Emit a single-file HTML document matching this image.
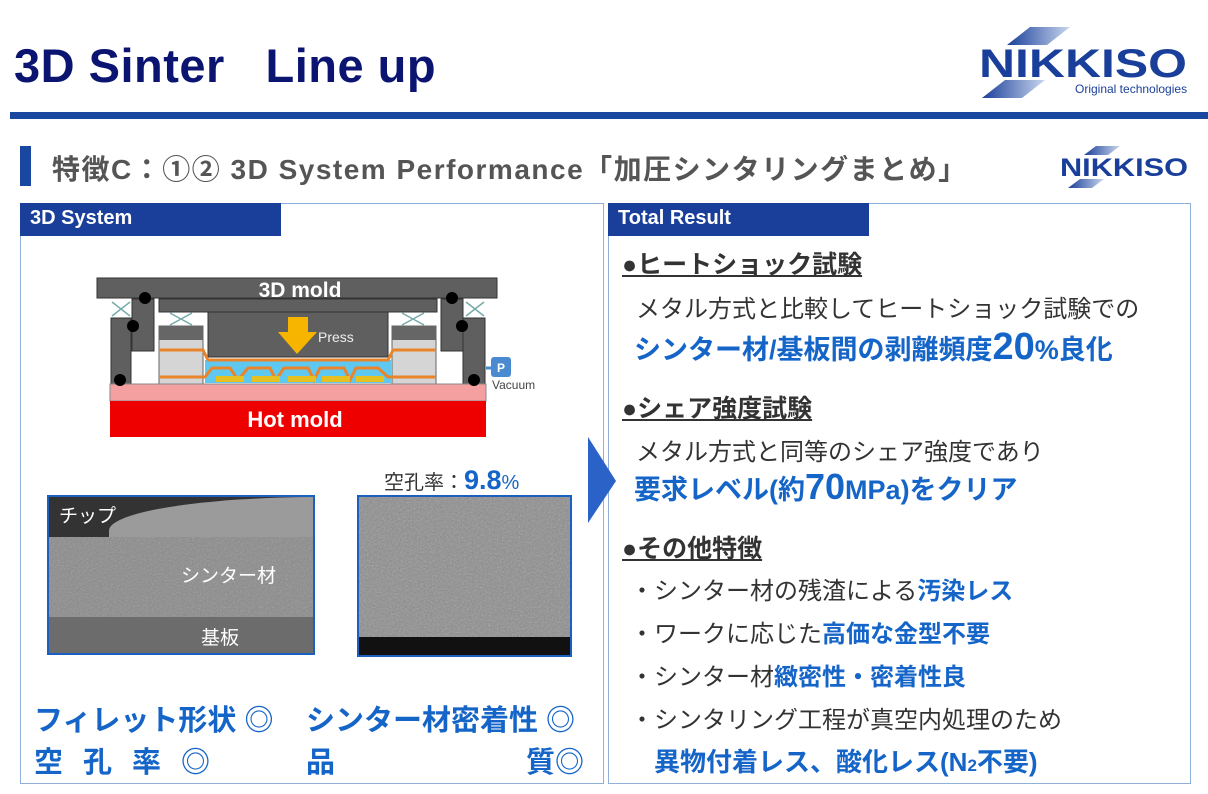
<!DOCTYPE html>
<html><head><meta charset="utf-8"><style>
body{margin:0;width:1208px;height:794px;background:#fff;position:relative;overflow:hidden;font-family:"Liberation Sans","Noto Sans CJK JP",sans-serif}
.a{position:absolute;white-space:nowrap}
.b{font-weight:bold}
.blue{color:#1565c8}
</style></head><body>
<div class="a b" style="left:14px;top:38px;font-size:47px;color:#0b1470;letter-spacing:0.5px">3D Sinter&nbsp;&nbsp;&nbsp;Line up</div>
<!-- logo -->
<svg class="a" style="left:975px;top:25px" width="220" height="80">
<defs><linearGradient id="g" x1="0" x2="1"><stop offset="0" stop-color="#1a3f9a"/><stop offset="1" stop-color="#c9d6ee"/></linearGradient>
<filter id="n"><feTurbulence type="fractalNoise" baseFrequency="0.6" numOctaves="2"/><feColorMatrix type="saturate" values="0"/></filter></defs>
<polygon points="55,2 95,2 72,20 32,20" fill="url(#g)"/>
<polygon points="30,55 70,55 47,73 7,73" fill="url(#g)"/>
<text x="4" y="52" font-family="Liberation Sans" font-weight="bold" font-size="40" fill="#1a3f9a" textLength="208" lengthAdjust="spacingAndGlyphs">NIKKISO</text>
<text x="100" y="68" font-family="Liberation Sans" font-size="12" fill="#1a3f9a">Original technologies</text>
</svg>
<div class="a" style="left:10px;top:112px;width:1198px;height:7px;background:#1a47a0"></div>
<div class="a" style="left:20px;top:146px;width:11px;height:40px;background:#1a47a0"></div>
<div class="a b" style="left:52px;top:148px;font-size:28px;color:#555;letter-spacing:1.5px">特徴C：①② 3D System Performance「加圧シンタリングまとめ」</div>
<svg class="a" style="left:1058px;top:145px" width="135" height="45">
<polygon points="38,1 62,1 50,10 26,10" fill="url(#g)"/>
<polygon points="22,34 46,34 34,43 10,43" fill="url(#g)"/>
<text x="2" y="31" font-family="Liberation Sans" font-weight="bold" font-size="25" fill="#1a3f9a" textLength="128" lengthAdjust="spacingAndGlyphs">NIKKISO</text>
</svg>
<!-- panels -->
<div class="a" style="left:20px;top:203px;width:582px;height:579px;border:1px solid #8fb0d8"></div>
<div class="a" style="left:608px;top:203px;width:581px;height:579px;border:1px solid #8fb0d8"></div>
<div class="a b" style="left:20px;top:203px;width:261px;height:33px;background:#1a3f9a;color:#fff;font-size:20px;line-height:31px;padding-left:10px;box-sizing:border-box">3D System</div>
<div class="a b" style="left:608px;top:203px;width:261px;height:33px;background:#1a3f9a;color:#fff;font-size:20px;line-height:31px;padding-left:10px;box-sizing:border-box">Total Result</div>
<svg class="a" style="left:588px;top:437px" width="30" height="88"><polygon points="0,0 28,44 0,86" fill="#2a62c8"/></svg>
<!-- mold diagram -->
<svg class="a" style="left:90px;top:270px" width="460" height="180">
<rect x="7" y="8" width="400" height="20" fill="#5f5f5f" stroke="#333"/>
<text x="210" y="27" text-anchor="middle" font-family="Liberation Sans" font-weight="bold" font-size="21" fill="#fff">3D mold</text>
<rect x="69" y="29" width="278" height="13" fill="#5f5f5f" stroke="#333"/>
<rect x="118" y="42" width="180" height="45" fill="#5f5f5f" stroke="#333"/>
<rect x="42" y="29" width="22" height="52" fill="#5f5f5f" stroke="#333"/>
<rect x="21" y="48" width="20" height="66" fill="#5f5f5f" stroke="#333"/>
<rect x="351" y="29" width="22" height="52" fill="#5f5f5f" stroke="#333"/>
<rect x="373" y="48" width="22" height="66" fill="#5f5f5f" stroke="#333"/>
<rect x="69" y="56" width="44" height="58" fill="#d5d5d5" stroke="#666"/>
<rect x="69" y="56" width="44" height="14" fill="#666"/>
<rect x="302" y="56" width="44" height="58" fill="#d5d5d5" stroke="#666"/>
<rect x="302" y="56" width="44" height="14" fill="#666"/>
<rect x="115" y="90" width="186" height="23" fill="#5ec8f0"/>
<path d="M69 80 L113 80 L118 90 L298 90 L303 80 L346 80" stroke="#e9842b" stroke-width="3" fill="none"/>
<path d="M69 107 L115 107 L122 98 L140 98 L148 110 L158 98 L180 98 L186 110 L194 98 L218 98 L224 110 L230 98 L254 98 L260 110 L266 98 L288 98 L298 107 L346 107" stroke="#e9842b" stroke-width="3" fill="none"/>
<g fill="#e6c020"><rect x="126" y="106" width="28" height="6"/><rect x="162" y="106" width="28" height="6"/><rect x="198" y="106" width="28" height="6"/><rect x="232" y="106" width="28" height="6"/><rect x="266" y="106" width="28" height="6"/></g>
<rect x="20" y="114" width="376" height="17" fill="#f4a0a0" stroke="#888"/>
<rect x="20" y="131" width="376" height="36" fill="#ee0000"/>
<text x="205" y="157" text-anchor="middle" font-family="Liberation Sans" font-weight="bold" font-size="22" fill="#fff">Hot mold</text>
<polygon points="198,47 218,47 218,62 227,62 207,84 188,62 198,62" fill="#f7b500"/>
<text x="228" y="72" font-family="Liberation Sans" font-size="14" fill="#eee">Press</text>
<g fill="#000"><circle cx="55" cy="28" r="6"/><circle cx="43" cy="56" r="6"/><circle cx="30" cy="110" r="6"/><circle cx="362" cy="28" r="6"/><circle cx="372" cy="56" r="6"/><circle cx="384" cy="110" r="6"/></g>
<g stroke="#7aa" stroke-width="1.5" fill="#cde"><path d="M22,32 L40,46 M40,32 L22,46"/><path d="M376,32 L394,46 M394,32 L376,46"/><path d="M80,43 L102,55 M102,43 L80,55"/><path d="M312,43 L334,55 M334,43 L312,55"/></g>
<line x1="396" y1="98" x2="412" y2="98" stroke="#4a8ad0" stroke-width="3"/>
<rect x="401" y="87" width="20" height="20" rx="3" fill="#4a8ad0"/>
<text x="411" y="102" text-anchor="middle" font-family="Liberation Sans" font-weight="bold" font-size="12" fill="#fff">P</text>
<text x="402" y="119" font-family="Liberation Sans" font-size="12" fill="#444">Vacuum</text>
</svg>
<!-- SEM images -->
<div class="a" style="left:47px;top:495px;width:264px;height:156px;border:2px solid #1a60c0;background:#8a8a8a;overflow:hidden">
<svg class="a" style="left:0;top:0" width="264" height="156"><rect width="264" height="156" filter="url(#n)" opacity="0.35"/></svg>
<div class="a" style="left:0;top:0;width:264px;height:40px;background:#333"></div>
<div class="a" style="left:60px;top:0;width:210px;height:40px;background:#9b9b9b;border-top-left-radius:250px 40px"></div>
<div class="a" style="left:0;top:120px;width:264px;height:36px;background:#6c6c6c"></div>
<div class="a" style="left:10px;top:4px;font-size:19px;color:#fff">チップ</div>
<div class="a" style="left:132px;top:64px;font-size:19px;color:#fff">シンター材</div>
<div class="a" style="left:152px;top:126px;font-size:19px;color:#fff">基板</div>
</div>
<div class="a" style="left:384px;top:465px;font-size:20px;color:#333">空孔率：<b style="font-size:27px;color:#1565c8">9.8</b><span style="color:#1565c8">%</span></div>
<div class="a" style="left:357px;top:495px;width:211px;height:158px;border:2px solid #1a60c0;background:#8c8c8c;overflow:hidden">
<svg class="a" style="left:0;top:0" width="211" height="158"><rect width="211" height="158" filter="url(#n)" opacity="0.45"/></svg>
<div class="a" style="left:0;top:140px;width:211px;height:18px;background:#111"></div>
</div>
<div class="a b blue" style="left:34px;top:697px;font-size:29px">フィレット形状 ◎</div>
<div class="a b blue" style="left:306px;top:697px;font-size:29px">シンター材密着性 ◎</div>
<div class="a b blue" style="left:34px;top:739px;font-size:29px;letter-spacing:20px">空孔率<span style="letter-spacing:0">◎</span></div>
<div class="a b blue" style="left:306px;top:739px;font-size:29px">品</div>
<div class="a b blue" style="left:526px;top:739px;font-size:29px">質◎</div>
<!-- right -->
<div class="a b" style="left:622px;top:245px;font-size:25px;color:#333;text-decoration:underline">●ヒートショック試験</div>
<div class="a" style="left:636px;top:289px;font-size:24px;color:#333">メタル方式と比較してヒートショック試験での</div>
<div class="a b blue" style="left:634px;top:326px;font-size:27px">シンター材/基板間の剥離頻度<span style="font-size:38px">20</span>%良化</div>
<div class="a b" style="left:622px;top:389px;font-size:25px;color:#333;text-decoration:underline">●シェア強度試験</div>
<div class="a" style="left:636px;top:432px;font-size:24px;color:#333">メタル方式と同等のシェア強度であり</div>
<div class="a b blue" style="left:634px;top:466px;font-size:27px">要求レベル(約<span style="font-size:36px">70</span>MPa)をクリア</div>
<div class="a b" style="left:622px;top:529px;font-size:25px;color:#333;text-decoration:underline">●その他特徴</div>
<div class="a" style="left:630px;top:571px;font-size:24px;color:#333">・シンター材の残渣による<b class="blue">汚染レス</b></div>
<div class="a" style="left:630px;top:614px;font-size:24px;color:#333">・ワークに応じた<b class="blue">高価な金型不要</b></div>
<div class="a" style="left:630px;top:657px;font-size:24px;color:#333">・シンター材<b class="blue">緻密性・密着性良</b></div>
<div class="a" style="left:630px;top:700px;font-size:24px;color:#333">・シンタリング工程が真空内処理のため</div>
<div class="a b blue" style="left:654px;top:742px;font-size:26px">異物付着レス、酸化レス(N<span style="font-size:17px">2</span>不要)</div>
</body></html>
